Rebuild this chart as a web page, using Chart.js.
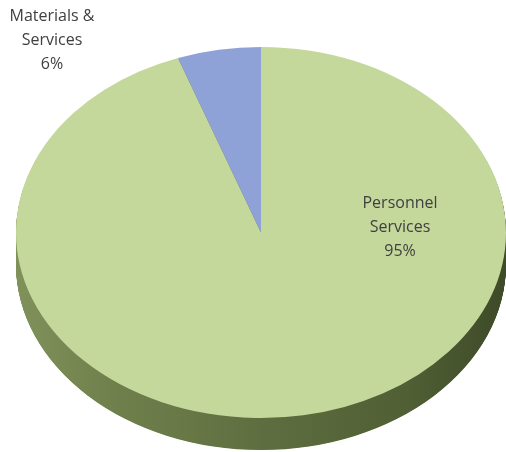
<!DOCTYPE html>
<html><head><meta charset="utf-8">
<script src="https://cdn.jsdelivr.net/npm/chart.js@4"></script>
<style>html,body{margin:0;padding:0;background:#fff;} #c{display:block;}</style>
</head><body>
<canvas id="c" width="506" height="452"></canvas>
<script>
const categories = ['Personnel Services', 'Materials & Services'];
const values = [94.5, 5.5];
const labelLines = [['Personnel', 'Services'], ['Materials &', 'Services']];
const percentLabels = values.map(v => Math.round(v) + '%');
const colors = ['#c5d89c', '#8fa2d7'];

// projection of the tilted pie
const CX = 261, CY = 232.5, RX = 245, RY = 185.5, DEPTH = 32;
const SY = RY / RX;

const tiltPlugin = {
  id: 'tilt',
  afterLayout(chart) {
    chart.chartArea = {left: CX - RX, right: CX + RX, top: 0, bottom: 2 * RX, width: 2 * RX, height: 2 * RX};
  },
  beforeDatasetsDraw(chart) {
    const ctx = chart.ctx;
    ctx.save();
    ctx.translate(0, CY);
    ctx.scale(1, SY);
    ctx.translate(0, -RX);
    const arcs = chart.getDatasetMeta(0).data;
    const grad = ctx.createLinearGradient(CX - RX, 0, CX + RX, 0);
    grad.addColorStop(0, 'rgb(128,145,90)');
    grad.addColorStop(0.2, 'rgb(112,128,76)');
    grad.addColorStop(0.5, 'rgb(94,110,64)');
    grad.addColorStop(0.8, 'rgb(80,95,52)');
    grad.addColorStop(1, 'rgb(62,74,40)');
    for (let d = DEPTH; d >= 1; d -= 0.5) {
      const off = d / SY;
      arcs.forEach(a => {
        ctx.beginPath();
        ctx.moveTo(a.x, a.y + off);
        ctx.arc(a.x, a.y + off, a.outerRadius, a.startAngle, a.endAngle);
        ctx.closePath();
        ctx.fillStyle = grad;
        ctx.fill();
      });
    }
  },
  afterDatasetsDraw(chart) {
    chart.ctx.restore();
  },
  afterDraw(chart) {
    const ctx = chart.ctx;
    ctx.save();
    ctx.font = '16px "Open Sans"';
    ctx.fillStyle = '#404040';
    ctx.textAlign = 'center';
    ctx.textBaseline = 'middle';
    const pos = [[400, 203], [52, 16]];
    const lh = 24;
    labelLines.forEach((lines, i) => {
      const all = lines.concat([percentLabels[i]]);
      all.forEach((t, j) => ctx.fillText(t, pos[i][0], pos[i][1] + j * lh));
    });
    ctx.restore();
  }
};

new Chart(document.getElementById('c'), {
  type: 'pie',
  data: {
    labels: categories,
    datasets: [{
      data: values,
      backgroundColor: colors,
      borderWidth: 0,
      clip: false
    }]
  },
  options: {
    responsive: false,
    animation: false,
    events: [],
    rotation: 0,
    plugins: {legend: {display: false}, tooltip: {enabled: false}}
  },
  plugins: [tiltPlugin]
});
</script>
</body></html>
